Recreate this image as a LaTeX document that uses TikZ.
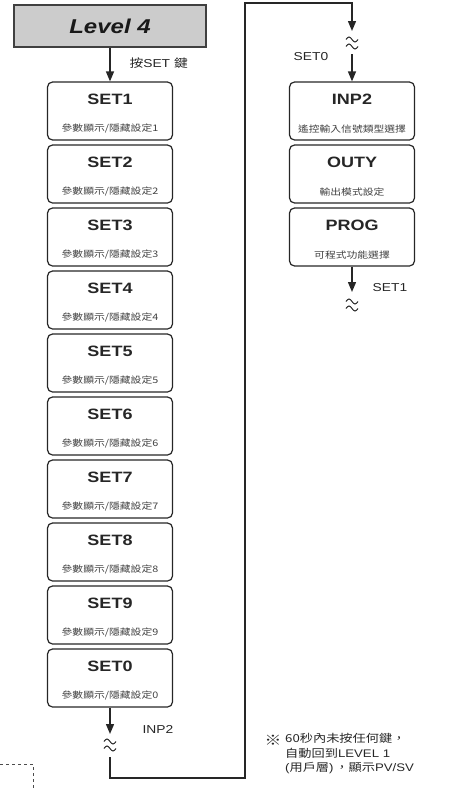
\documentclass[tikz,border=0pt]{standalone}
\usepackage{fontspec}
\setmainfont{Liberation Sans}[FakeStretch=1.2]
\newfontfamily\cjk{Noto Sans CJK TC}[FakeStretch=1.2]
\usetikzlibrary{arrows.meta, positioning}

\begin{document}
\begin{tikzpicture}[
    x=1pt, y=-1pt,
    >={Triangle[width=8pt,length=10pt]},
    % Node Styles
    lvlbox/.style={rectangle, draw=black!75, line width=1.3pt, fill=black!20, minimum width=192pt, minimum height=42pt, font=\fontsize{20}{24}\selectfont\bfseries\itshape, text=black!90},
    setbox/.style={rectangle, draw=black!85, line width=1.2pt, rounded corners=5pt, minimum width=125pt, minimum height=58pt},
    boxtitle/.style={font=\fontsize{15}{18}\selectfont\bfseries, text=black!85},
    boxsub/.style={font=\cjk\fontsize{9}{11}\selectfont, text=black!75},
    lbl/.style={font=\fontsize{11.5}{14}\selectfont, text=black!85},
    note/.style={font=\fontsize{11}{14.5}\selectfont, text=black!85, align=left},
    % Lines
    link/.style={line width=1.4pt, draw=black!85},
    cutline/.style={line width=1pt, draw=black!85},
    cutmark/.pic={
        \draw[cutline] (-6,-3.5) sin (-3,-6) cos (0,-3.5) sin (3,-1) cos (6,-3.5);
        \draw[cutline] (-6,3.5) sin (-3,1) cos (0,3.5) sin (3,6) cos (6,3.5);
    }
]
\useasboundingbox (0,0) rectangle (460,790);

% =========================================================
% LEFT COLUMN: Level 4 and SET1 ... SET0
% =========================================================
\node[lvlbox] (level) at (110,26) {Level 4};

\foreach \n [count=\k] in {1,2,3,4,5,6,7,8,9,0} {
    \node[setbox] (set\n) at (110, {111+63*(\k-1)}) {};
    \node[boxtitle] (title\n) at ([yshift=-18pt]set\n.north) {SET\n};
    \node[boxsub] (sub\n) at ([yshift=12pt]set\n.south) {參數顯示/隱藏設定\n};
}

\draw[link, ->] (level) -- (set1);
\node[lbl, anchor=west] (presslbl) at (126,63) {{\cjk 按}SET {\cjk 鍵}};

% cut after SET0, jump over to INP2
\coordinate (cutAtop) at (110,734);
\coordinate (cutAbot) at (110,757);
\coordinate (turnA) at (110,778);
\coordinate (turnB) at (245,778);
\coordinate (turnC) at (245,3);
\coordinate (turnD) at (352,3);
\coordinate (cutBtop) at (352,31);
\coordinate (cutBbot) at (352,54);

\draw[link, ->] (set0) -- (cutAtop);
\pic at (110,745) {cutmark};
\node[lbl, anchor=west] (inplbl) at (139,729) {INP2};
\draw[link, ->] (cutAbot) -- (turnA) -- (turnB) -- (turnC) -- (turnD) -- (cutBtop);

% =========================================================
% RIGHT COLUMN: INP2, OUTY, PROG
% =========================================================
\foreach \name/\sub [count=\k] in {INP2/遙控輸入信號類型選擇, OUTY/輸出模式設定, PROG/可程式功能選擇} {
    \node[setbox] (\name) at (352, {111+63*(\k-1)}) {};
    \node[boxtitle] at ([yshift=-18pt]\name.north) {\name};
    \node[boxsub] at ([yshift=12pt]\name.south) {\sub};
}

\pic at (352,43) {cutmark};
\node[lbl] (setzerolbl) at (311,57) {SET0};
\draw[link, ->] (cutBbot) -- (INP2);

\coordinate (cutCtop) at (352,292);
\draw[link, ->] (PROG) -- (cutCtop);
\node[lbl] (setonelbl) at (390,288) {SET1};
\pic at (352,305) {cutmark};

% =========================================================
% NOTE
% =========================================================
\node[note, anchor=west, font=\cjk\fontsize{14}{16}\selectfont] (mark) at (261,740) {※};
\node[note, anchor=north west, inner sep=0pt] (notetext) at (285,733) {%
    {\cjk 60秒內未按任何鍵，}\\
    {\cjk 自動回到}LEVEL 1\\
    ({\cjk 用戶層})\,{\cjk ，顯示}PV/SV};

% dashed corner at lower left
\draw[dashed, line width=0.8pt, black!70] (0,764) -- (33,764) -- (33,790);

\end{tikzpicture}
\end{document}
